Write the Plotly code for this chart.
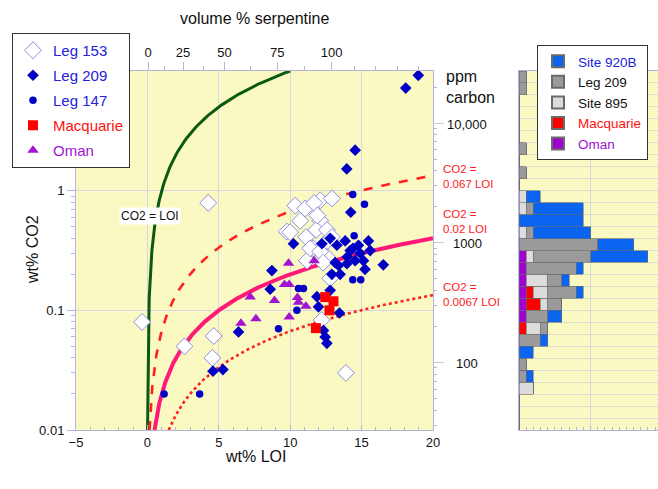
import numpy as np
import plotly.graph_objects as go

W, H = 658, 489
FONT = "Liberation Sans, Arial, sans-serif"

# ---------------- scatter data (wt% LOI, wt% CO2) ----------------
leg153_loi = [4.26, -0.37, 2.6, 4.64, 4.55, 13.9, 10.35, 11.05, 12.1, 12.92, 11.68, 9.76, 11.12,
              12.1, 11.82, 12.57, 11.61, 11.17, 12.31, 12.92, 12.57, 10.0, 11.4, 12.1, 12.31,
              12.8, 12.2, 11.9, 10.7]
leg153_co2 = [0.79, 0.08, 0.05, 0.061, 0.040, 0.030, 0.75, 0.71, 0.83, 0.86, 0.79, 0.455, 0.41,
              0.56, 0.47, 0.47, 0.33, 0.26, 0.35, 0.41, 0.28, 0.45, 0.33, 0.31, 0.25,
              0.185, 0.083, 0.62, 0.56]

leg209_loi = [18.97, 18.09, 14.55, 13.96, 14.24, 8.72, 8.6, 6.38, 4.59, 5.29, 10.23, 12.22, 12.8,
              13.27, 13.85, 14.2, 14.78, 14.9, 15.48, 15.6, 15.13, 14.55, 13.97, 13.38, 12.92,
              13.5, 16.52, 13.15, 15.24, 11.87, 12.8, 11.98, 13.45, 12.45, 12.57, 12.33, 14.0, 14.4]
leg209_co2 = [9.2, 7.2, 2.18, 1.52, 0.66, 0.215, 0.15, 0.066, 0.031, 0.032, 0.36, 0.36, 0.40,
              0.35, 0.38, 0.316, 0.35, 0.30, 0.38, 0.316, 0.26, 0.26, 0.245, 0.237, 0.20,
              0.20, 0.24, 0.25, 0.22, 0.13, 0.147, 0.107, 0.095, 0.06, 0.053, 0.068, 0.28, 0.33]

leg147_loi = [14.38, 15.2, 14.48, 14.38, 14.94, 10.58, 10.93, 10.47, 9.18, 1.17, 3.66]
leg147_co2 = [0.93, 0.77, 0.42, 0.18, 0.18, 0.152, 0.152, 0.10, 0.070, 0.020, 0.020]

macq_loi = [12.45, 13.03, 12.75, 11.8]
macq_co2 = [0.129, 0.119, 0.10, 0.071]

oman_loi = [9.88, 11.68, 9.6, 9.93, 7.2, 8.9, 10.51, 10.58, 11.1, 6.55, 7.6, 9.93]
oman_co2 = [0.248, 0.26, 0.164, 0.164, 0.129, 0.121, 0.128, 0.117, 0.108, 0.078, 0.085, 0.088]

# reference lines CO2 = k * LOI
ref_coeffs = [1.0, 0.067, 0.02, 0.0067]
ref_labels = ["CO2 =<br>0.067 LOI", "CO2 =<br>0.02 LOI", "CO2 =<br>0.0067 LOI"]

# ---------------- histogram data (counts per 0.1 log10 bin, from 0.01 to 10 wt% CO2) ----------------
bin_lo = -2.0
bin_step = 0.1
oman_h  = [0,0,0,0,0,0,0,0,0,1, 1,1,1,1,1,0,0,0,0,0, 0,0,0,0,0,0,0,0,0,0]
macq_h  = [0,0,0,0,0,0,0,0,1,0, 2,1,0,0,0,0,0,0,0,0, 0,0,0,0,0,0,0,0,0,0]
s895_h  = [0,0,0,2,0,0,0,0,2,0, 1,2,3,0,1,0,1,0,1,1, 0,0,0,0,0,0,0,0,0,0]
l209_h  = [0,0,0,0,1,1,0,3,1,3, 2,4,2,7,8,11,1,0,1,0, 0,1,0,1,0,0,0,0,1,1]
s920_h  = [0,0,0,0,1,0,2,1,0,2, 0,1,1,1,8,5,8,9,7,2, 0,0,0,0,0,0,0,0,0,0]

# ppm carbon axis
ppm_per_wt = 1e4 * 12.0 / 44.0
ppm_ticks = [100, 1000, 10000]
ppm_labels = ["100", "1000", "10,000"]

serp_pos = [0.05, 2.5, 5.4, 9.1, 12.9]
serp_labels = ["0", "25", "50", "75", "100"]

# ---------------- helpers ----------------
def px(x):
    return x / W

def py(y):
    return 1 - y / H

AX = "#b4b4de"
GRID = "#d6d6e6"
BLUE = "#0000c4"
PURPLE = "#a214d2"
RED_TXT = "#ff1a1a"

PLOT_TOP, PLOT_BOT = 71, 430
x_dom = [px(76), px(433)]
y_dom = [py(PLOT_BOT), py(PLOT_TOP)]
h_dom = [px(519), 1.0]
YLOG = [-2, 1]

def ypix_of_co2(v):
    f = (np.log10(v) - YLOG[0]) / (YLOG[1] - YLOG[0])
    return PLOT_BOT - f * (PLOT_BOT - PLOT_TOP)

fig = go.Figure()

# reference lines
line_styles = [
    dict(color="#0a5a14", width=3, dash="solid"),
    dict(color="#ff2020", width=2.6, dash="dash"),
    dict(color="#ff1a78", width=4, dash="solid"),
    dict(color="#ff2020", width=2.6, dash="dot"),
]
for k, st in zip(ref_coeffs, line_styles):
    x0 = 0.01 / k
    x1 = min(20.0, 10.0 / k)
    xs = np.geomspace(x0, x1, 300)
    fig.add_trace(go.Scatter(x=xs, y=k * xs, mode="lines", line=st, showlegend=False,
                             hoverinfo="skip", xaxis="x", yaxis="y"))

def lbl(text, color):
    return f"<span style='color:{color}'>{text}</span>"

scatter_series = [
    ("Leg 153", leg153_loi, leg153_co2, "#2222dd",
     dict(symbol="diamond", size=13, color="white", line=dict(color="#8c8ce0", width=1))),
    ("Leg 209", leg209_loi, leg209_co2, "#2222dd",
     dict(symbol="diamond", size=9, color=BLUE, line=dict(width=0))),
    ("Leg 147", leg147_loi, leg147_co2, "#2222dd",
     dict(symbol="circle", size=7.5, color=BLUE, line=dict(width=0))),
    ("Macquarie", macq_loi, macq_co2, "#ff1010",
     dict(symbol="square", size=10, color="#ff0000", line=dict(width=0))),
    ("Oman", oman_loi, oman_co2, PURPLE,
     dict(symbol="triangle-up", size=10, color=PURPLE, line=dict(width=0))),
]
for name, xs, ys, tcol, mk in scatter_series:
    fig.add_trace(go.Scatter(x=xs, y=ys, mode="markers", name=lbl(name, tcol), marker=mk,
                             legend="legend", legendgroup=name, xaxis="x", yaxis="y"))

# dummy traces to activate secondary axes
fig.add_trace(go.Scatter(x=[None], y=[None], xaxis="x2", yaxis="y", showlegend=False, hoverinfo="skip"))
fig.add_trace(go.Scatter(x=[None], y=[None], xaxis="x", yaxis="y2", showlegend=False, hoverinfo="skip"))

# histogram
centers = [bin_lo + bin_step * (i + 0.5) for i in range(len(oman_h))]
hist_series = [
    ("Oman", oman_h, "#a000d0", PURPLE),
    ("Macquarie", macq_h, "#ff0000", "#ff1010"),
    ("Site 895", s895_h, "#dcdcdc", "#111111"),
    ("Leg 209", l209_h, "#9a9a9a", "#111111"),
    ("Site 920B", s920_h, "#0a64f0", "#2222dd"),
]
for name, vals, col, tcol in hist_series:
    fig.add_trace(go.Bar(y=centers, x=vals, orientation="h", width=bin_step,
                         marker=dict(color=col, line=dict(color="#6a6a6a", width=0.6)),
                         name=lbl(name, tcol), legend="legend2", legendgroup="h" + name,
                         xaxis="x3", yaxis="y3", hoverinfo="skip"))

minor_log = [m * 10.0 ** e for e in (-2, -1, 0) for m in range(2, 10)]
ppm_minor = [m * 10.0 ** e for e in (1, 2, 3) for m in range(2, 10)] + [20000]
ppm_minor = [v for v in ppm_minor if 27.3 < v < 27272]

fig.update_layout(
    width=W, height=H,
    margin=dict(l=0, r=0, t=0, b=0, pad=0, autoexpand=False),
    paper_bgcolor="white",
    plot_bgcolor="#fbf9c2",
    font=dict(family=FONT, size=13, color="#111111"),
    barmode="stack",
    showlegend=True,
    xaxis=dict(domain=x_dom, range=[-5, 20], anchor="y", tickvals=[-5, 0, 5, 10, 15, 20],
               showgrid=True, gridcolor=GRID, zeroline=False, showline=True, linecolor=AX,
               ticks="inside", ticklen=5, tickcolor=AX, automargin=False,
               minor=dict(dtick=1, ticks="inside", ticklen=3, tickcolor=AX, showgrid=False),
               tickfont=dict(size=13)),
    xaxis2=dict(overlaying="x", side="top", anchor="y", range=[-5, 20], tickmode="array",
                tickvals=serp_pos, ticktext=serp_labels, showgrid=False, zeroline=False,
                showline=True, linecolor=AX, ticks="outside", ticklen=8, tickcolor=AX,
                automargin=False,
                minor=dict(tickmode="array", tickvals=[1.2, 3.9, 7.2, 11.0, 14.5, 16, 17.5, 19],
                           ticks="outside", ticklen=4, tickcolor=AX),
                tickfont=dict(size=13)),
    yaxis=dict(domain=y_dom, type="log", range=YLOG, anchor="x", tickmode="array",
               tickvals=[0.01, 0.1, 1], ticktext=["0.01", "0.1", "1"],
               showgrid=True, gridcolor=GRID, zeroline=False, showline=True, linecolor=AX,
               ticks="outside", ticklen=8, tickcolor=AX, automargin=False,
               minor=dict(tickmode="array", tickvals=minor_log, ticks="outside", ticklen=4,
                          tickcolor=AX, showgrid=False),
               tickfont=dict(size=13)),
    yaxis2=dict(overlaying="y", side="right", anchor="x", type="log",
                range=[np.log10(0.01 * ppm_per_wt), np.log10(10 * ppm_per_wt)],
                tickmode="array", tickvals=ppm_ticks, showticklabels=False, showgrid=False,
                zeroline=False, showline=True, linecolor=AX, ticks="outside", ticklen=10,
                tickcolor="#c8c8d8", automargin=False,
                minor=dict(tickmode="array", tickvals=ppm_minor, ticks="outside", ticklen=3,
                           tickcolor=AX)),
    xaxis3=dict(domain=h_dom, range=[0, 19.4], anchor="y3", tickvals=[0, 10],
                showticklabels=False, showgrid=True, gridcolor=GRID, zeroline=False,
                showline=True, linecolor=AX, mirror=True, ticks="inside", ticklen=4, tickcolor=AX,
                automargin=False,
                minor=dict(dtick=1, ticks="inside", ticklen=3, tickcolor=AX)),
    yaxis3=dict(domain=y_dom, range=YLOG, anchor="x3", dtick=0.1, tick0=-2,
                showticklabels=False, showgrid=True, gridcolor="#dcdcd0", zeroline=False,
                showline=True, linecolor=AX, ticks="", automargin=False),
    legend=dict(x=px(12), y=py(33), xanchor="left", yanchor="top", bgcolor="white",
                bordercolor="#333333", borderwidth=1, font=dict(size=15, family=FONT),
                traceorder="grouped", itemsizing="trace", tracegroupgap=2.5,
                itemwidth=30),
    legend2=dict(x=px(537), y=py(45), xanchor="left", yanchor="top", bgcolor="white",
                 bordercolor="#333333", borderwidth=1, font=dict(size=13.5, family=FONT),
                 traceorder="reversed", itemsizing="constant", tracegroupgap=0),
)

def note(text, x, y, xa="center", ya="middle", **kw):
    d = dict(text=text, x=px(x), y=py(y), xref="paper", yref="paper", xanchor=xa,
             yanchor=ya, showarrow=False)
    d.update(kw)
    return d

ann = [
    note("volume % serpentine", 255, 18, font=dict(size=16)),
    note("wt% LOI", 255, 456, font=dict(size=16)),
    note("wt% CO2", 32, 250, textangle=-90, font=dict(size=16)),
    note("ppm<br>carbon", 444, 87, xa="left", align="left", font=dict(size=16)),
    note("CO2 = LOI", 150, 216, bgcolor="white", borderpad=1, font=dict(size=12)),
]
# ppm carbon tick labels, centred as in the original
for v, t in zip(ppm_ticks, ppm_labels):
    ann.append(note(t, 467, ypix_of_co2(v / ppm_per_wt) + 1, font=dict(size=13)))
# red equation labels
for txt, yy in zip(ref_labels, [176, 221, 294]):
    ann.append(note(txt, 441, yy, xa="left", align="left", font=dict(size=11.5, color=RED_TXT)))
fig.update_layout(annotations=ann)

fig.write_html("out.html", post_script="document.body.style.margin='0px';",
               config={"displayModeBar": False})
